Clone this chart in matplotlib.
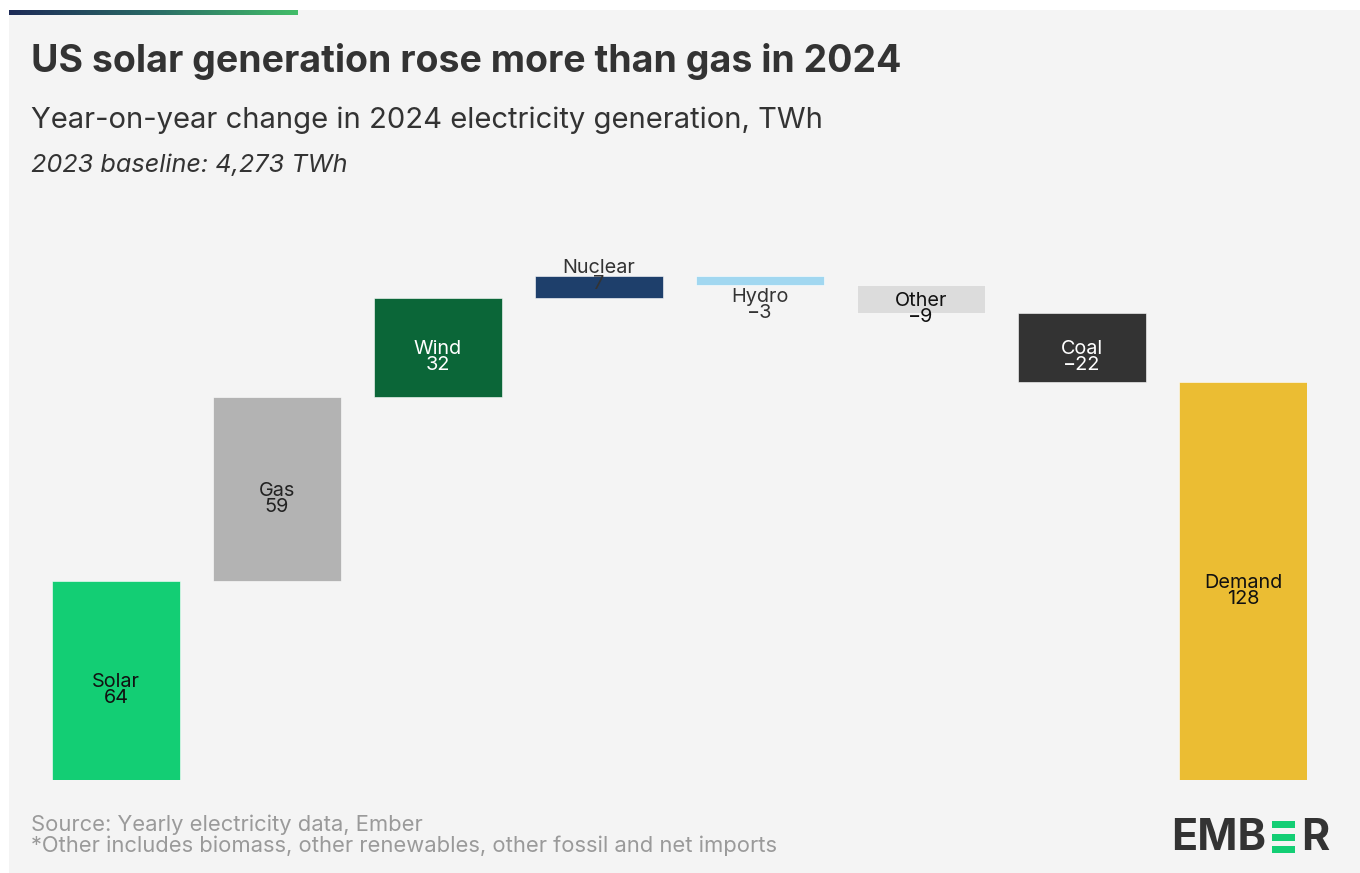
import matplotlib.pyplot as plt
import numpy as np
from matplotlib.patches import Rectangle
from matplotlib.colors import LinearSegmentedColormap

plt.rcParams["font.family"] = ["Inter", "DejaVu Sans"]

# data
sources = ["Solar", "Gas", "Wind", "Nuclear", "Hydro", "Other", "Coal"]
changes = [64, 59, 32, 7, -3, -9, -22]
total_label = "Demand"
total_change = 128

title = "US solar generation rose more than gas in 2024"
subtitle = "Year-on-year change in 2024 electricity generation, TWh"
baseline_note = "2023 baseline: 4,273 TWh"
footer_lines = ["Source: Yearly electricity data, Ember",
                "*Other includes biomass, other renewables, other fossil and net imports"]

# style
bar_colors = ["#13ce74", "#b3b3b3", "#0b6638", "#1e3f6b", "#a1d7f0", "#dcdcdc",
              "#333333", "#ebbd33"]
label_colors = ["#111111", "#222222", "#ffffff", "#333333", "#333333", "#111111",
                "#ffffff", "#111111"]
BG = "#f4f4f4"
W, H = 1360, 873

fig = plt.figure(figsize=(W / 100, H / 100), dpi=100)
fig.patch.set_facecolor("white")
fig.add_artist(Rectangle((9 / W, 0), 1 - 9 / W, 1 - 10 / H, transform=fig.transFigure,
                         facecolor=BG, edgecolor="none", zorder=-10))

# gradient strip at the top
grad = np.linspace(0, 1, 256)[None, :]
gax = fig.add_axes([9 / W, 1 - 15 / H, 289 / W, 5 / H])
cmap = LinearSegmentedColormap.from_list("ember", ["#1d2a56", "#2a6a66", "#42bd69"])
gax.imshow(grad, aspect="auto", cmap=cmap)
gax.axis("off")

# waterfall
starts = np.concatenate([[0], np.cumsum(changes)[:-1]])
names = sources + [total_label]
heights = np.array(changes + [total_change], dtype=float)
bottoms = np.concatenate([starts, [0]])
x = np.arange(len(names))

ax = fig.add_axes([52 / W, 93 / H, 1255 / W, 529 / H])
ax.set_facecolor("none")
ax.bar(x, heights, bottom=bottoms, width=0.795, color=bar_colors,
       edgecolor="white", linewidth=0.4)
ax.set_xlim(-0.3975, len(names) - 1 + 0.3975)
ax.set_ylim(0, 170)
ax.axis("off")

for i, (nm, h, b) in enumerate(zip(names, heights, bottoms)):
    yc = b + h / 2
    shift = -2
    if abs(h) < 8:
        shift = 19 if h > 0 else -16
    val = f"{h:.0f}".replace("-", "\u2212")
    ax.annotate(nm, (x[i], yc), xytext=(0, shift * 0.72), textcoords="offset points",
                ha="center", va="center", fontsize=14.3, color=label_colors[i])
    ax.annotate(val, (x[i], yc), xytext=(0, (shift - 16) * 0.72),
                textcoords="offset points",
                ha="center", va="center", fontsize=14.3, color=label_colors[i])

# titles
fig.text(31 / W, 1 - 62 / H, title, fontsize=27, fontweight="bold", color="#333333",
         va="center", ha="left")
fig.text(31 / W, 1 - 120 / H, subtitle, fontsize=21, color="#333333",
         va="center", ha="left")
fig.text(31 / W, 1 - 165 / H, baseline_note, fontsize=18.2, style="italic",
         color="#333333", va="center", ha="left")

# footer
fig.text(31 / W, 1 - 825 / H, footer_lines[0], fontsize=15.8, color="#9a9a9a",
         va="center", ha="left")
fig.text(31 / W, 1 - 846 / H, footer_lines[1], fontsize=15.8, color="#9a9a9a",
         va="center", ha="left")

# logo
fig.text(1171 / W, 1 - 839 / H, "EMB", fontsize=31, fontweight="bold",
         color="#333333", va="center", ha="left")
fig.text(1329 / W, 1 - 839 / H, "R", fontsize=31, fontweight="bold",
         color="#333333", va="center", ha="right")
for ytop in (821, 834, 846):
    fig.add_artist(Rectangle((1272 / W, 1 - (ytop + 7) / H), 23 / W, 7 / H,
                             transform=fig.transFigure, facecolor="#13ce74",
                             edgecolor="none"))

fig.savefig("out.png", dpi=100, facecolor=fig.get_facecolor())
